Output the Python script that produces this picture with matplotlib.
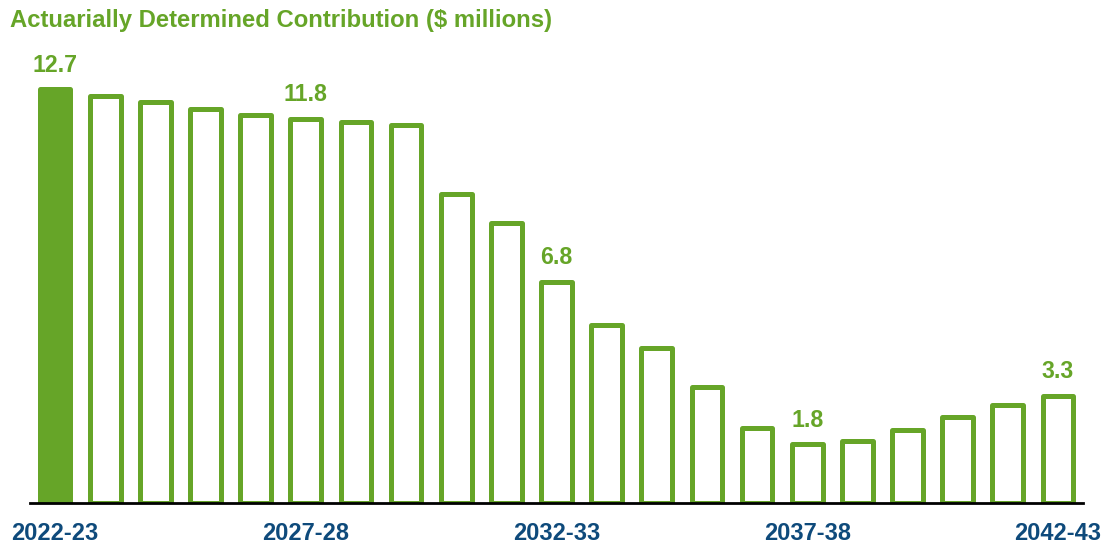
import numpy as np
import matplotlib.pyplot as plt

# Data
years = ["2022-23", "2023-24", "2024-25", "2025-26", "2026-27", "2027-28", "2028-29",
         "2029-30", "2030-31", "2031-32", "2032-33", "2033-34", "2034-35", "2035-36",
         "2036-37", "2037-38", "2038-39", "2039-40", "2040-41", "2041-42", "2042-43"]
adc = [12.7, 12.5, 12.3, 12.1, 11.9, 11.8, 11.7, 11.6, 9.5, 8.6, 6.8, 5.45,
       4.75, 3.55, 2.3, 1.8, 1.9, 2.25, 2.65, 3.0, 3.3]
labelled = ["2022-23", "2027-28", "2032-33", "2037-38", "2042-43"]

green = "#66A528"
navy = "#0E4A7B"

plt.rcParams['font.family'] = ['Liberation Sans', 'DejaVu Sans']

fig = plt.figure(figsize=(11.05, 5.46), dpi=100)
ax = fig.add_axes([30 / 1105, 43 / 546, 1053 / 1105, 456 / 546])

x = np.arange(len(years))
faces = [green] + ["white"] * (len(years) - 1)
ax.bar(x, adc, width=0.61, color=faces, edgecolor=green, linewidth=3.6,
       joinstyle="round", zorder=2)

# value labels on selected bars
for i, (yr, v) in enumerate(zip(years, adc)):
    if yr in labelled:
        ax.annotate(f"{v:.1f}", (i, v), xytext=(0, 9), textcoords="offset points",
                    ha="center", va="bottom", fontsize=16.7, fontweight="bold", color=green)

ax.set_xlim(-0.5, len(years) - 0.5)
ax.set_ylim(0, 14)
ax.set_xticks([years.index(y) for y in labelled])
ax.set_xticklabels(labelled, fontsize=17, fontweight="bold", color=navy)
ax.tick_params(axis="x", length=0, pad=14)
ax.set_yticks([])
for s in ["top", "left", "right"]:
    ax.spines[s].set_visible(False)
ax.spines["bottom"].set_linewidth(2)
ax.spines["bottom"].set_color("black")
ax.spines["bottom"].set_zorder(3)

fig.text(10 / 1105, 1 - 20 / 546, "Actuarially Determined Contribution ($ millions)",
         ha="left", va="center", fontsize=17.2, fontweight="bold", color=green)

fig.savefig("out.png", dpi=100)
